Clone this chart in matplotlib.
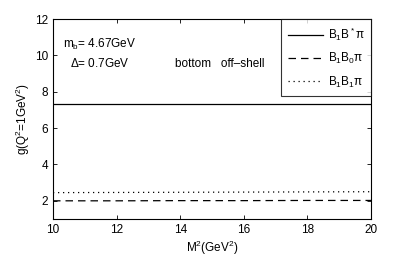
import numpy as np
import matplotlib
matplotlib.use("Agg")
import matplotlib.pyplot as plt

plt.rcParams['font.family'] = ['Liberation Sans', 'DejaVu Sans']
plt.rcParams['mathtext.fontset'] = 'custom'
plt.rcParams['mathtext.rm'] = 'Liberation Sans'
plt.rcParams['mathtext.it'] = 'Liberation Sans'

# M^2 values (GeV^2) and couplings
M2 = [10, 12, 14, 16, 18, 20]
g_BBstar = [7.35, 7.35, 7.35, 7.35, 7.35, 7.35]
g_BB0 = [2.00, 2.00, 2.01, 2.01, 2.02, 2.02]
g_BB1 = [2.45, 2.46, 2.47, 2.48, 2.49, 2.50]

fig = plt.figure(figsize=(4.09, 2.57), dpi=100)
ax = fig.add_axes([53/409, 1 - 219/257, 318/409, 200/257])

ax.plot(M2, g_BBstar, color='k', lw=0.9, ls='-', label=r'B$_1$B$^*$$\pi$')
ax.plot(M2, g_BB0, color='k', lw=0.9, ls=(0, (6, 4)), label=r'B$_1$B$_0$$\pi$')
ax.plot(M2, g_BB1, color='k', lw=0.9, ls=(0, (1, 3)), label=r'B$_1$B$_1$$\pi$')

ax.set_xlim(10, 20)
ax.set_ylim(1, 12)
ax.set_xticks([10, 12, 14, 16, 18, 20])
ax.set_yticks([2, 4, 6, 8, 10, 12])
ax.tick_params(direction='in', top=True, right=True, labelsize=8.5, length=3, width=0.6)
for s in ax.spines.values():
    s.set_linewidth(0.8)

ax.set_xlabel(r'M$^2$(GeV$^2$)', fontsize=8.5, labelpad=2)
ax.set_ylabel(r'g(Q$^2$=1GeV$^2$)', fontsize=8.5, labelpad=2)

ax.text(10.3, 10.6, r'm$_b$= 4.67GeV', fontsize=8.5, va='center')
ax.text(10.55, 9.55, r'$\Delta$= 0.7GeV', fontsize=8.5, va='center')
ax.text(13.85, 9.55, 'bottom   off\u2013shell', fontsize=8.5, va='center')

leg = ax.legend(loc='upper right', fontsize=8.5, frameon=True, fancybox=False,
                edgecolor='k', borderaxespad=0, handlelength=3.0,
                labelspacing=0.7, handletextpad=0.4, borderpad=0.55)
leg.get_frame().set_linewidth(0.8)

fig.savefig('out.png', dpi=100)
